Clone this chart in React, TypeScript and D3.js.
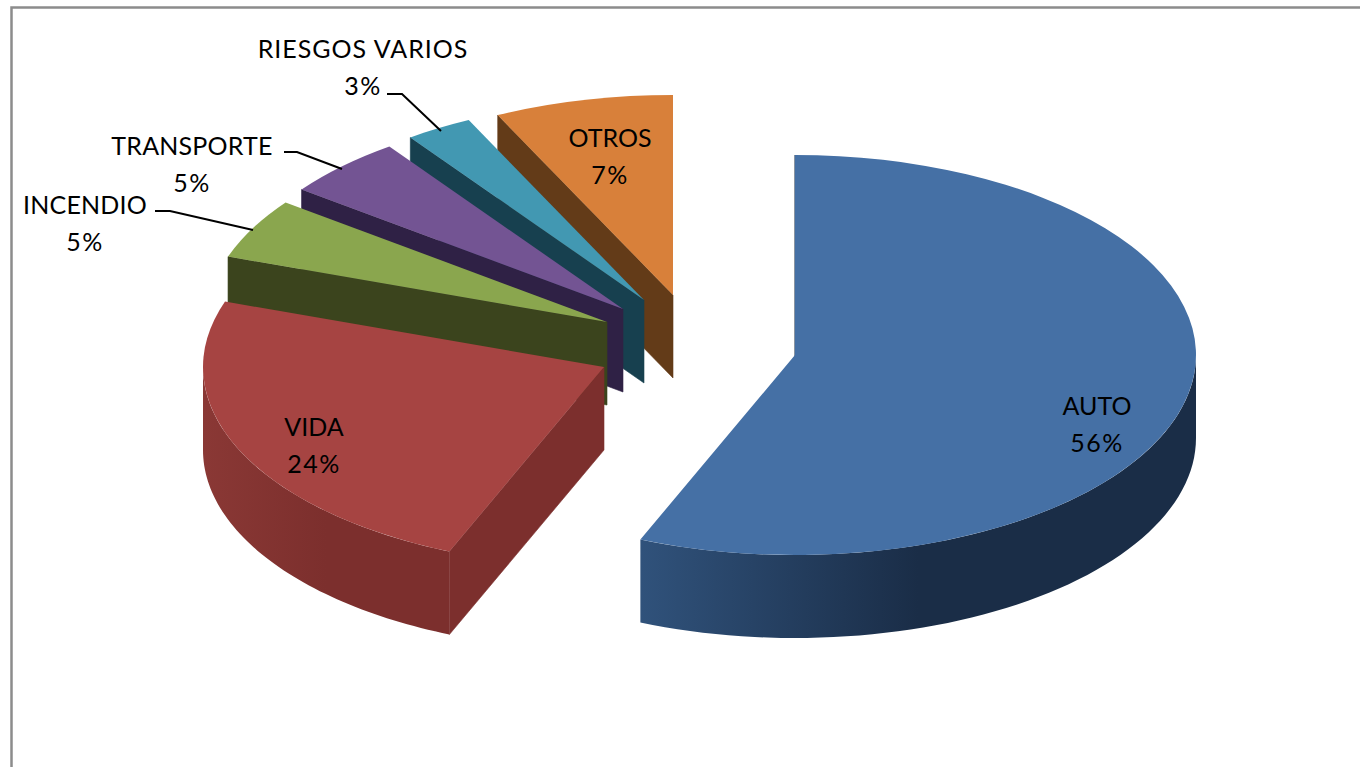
import * as d3 from "d3";

const categories = ["AUTO", "VIDA", "INCENDIO", "TRANSPORTE", "RIESGOS VARIOS", "OTROS"];
const shares = [56.3, 24, 4.9, 4.9, 2.7, 7.2];

const topColors = ["#4570a5", "#a64442", "#8aa64e", "#735493", "#4298b2", "#d8803a"];
const wallLeft = ["#30527b", "#8a3835", "#3b441d", "#2f2145", "#17404f", "#633b18"];
const wallRight = ["#1a2d47", "#7c2f2d", "#3b441d", "#2f2145", "#17404f", "#633b18"];

// where each exploded slice has its point
const apexX = [795, 604, 607, 623, 644, 673];
const apexY = [355, 367, 322, 309, 300, 295];
const rx = 401;
const ry = 200;
const depth = 83;

const labelX = [1097, 314, 85, 192, 363, 610];
const labelY = [415, 436, 214, 155, 58, 147];
const labelSpacing = [0, 0, 0.2, 0.2, 1, 0];
const leaders: (number[][] | null)[] = [
  null,
  null,
  [[155, 211], [170, 211], [253, 230]],
  [[284, 152], [297, 152], [342, 169]],
  [[387, 94], [402, 94], [441, 131]],
  null,
];

const pieData = d3.pie<number>().sort(null)(shares);
const linePath = d3.line();
const topArc = d3.arc<d3.PieArcDatum<number>>().innerRadius(0).outerRadius(rx);

function rimPoint(i: number, a: number, drop = 0): [number, number] {
  return [apexX[i] + rx * Math.sin(a), apexY[i] - ry * Math.cos(a) + drop];
}

function outerWall(i: number) {
  const from = Math.max(pieData[i].startAngle, Math.PI / 2);
  const to = Math.min(pieData[i].endAngle, (3 * Math.PI) / 2);
  if (to <= from) return null;
  const angle = d3.scaleLinear().domain([0, 60]).range([from, to]);
  const angles = d3.range(0, 61).map((k) => angle(k));
  const upper = angles.map((a) => rimPoint(i, a));
  const lower = angles.map((a) => rimPoint(i, a, depth)).reverse();
  return linePath([...upper, ...lower]) + "Z";
}

function cutWall(i: number) {
  const [ox, oy] = rimPoint(i, pieData[i].startAngle);
  return (
    linePath([
      [apexX[i], apexY[i]],
      [ox, oy],
      [ox, oy + depth],
      [apexX[i], apexY[i] + depth],
    ]) + "Z"
  );
}

export default function App() {
  const order = d3.range(categories.length).reverse();
  const total = d3.sum(shares);
  return (
    <svg
      width={1360}
      height={767}
      style={{ position: "absolute", left: 0, top: 0, background: "#fff" }}
      fontFamily="Lato, 'Open Sans', sans-serif"
    >
      <defs>
        {categories.map((_, i) => (
          <linearGradient key={i} id={`wall${i}`} x1="0" x2="1" y1="0" y2="0">
            <stop offset="0" stopColor={wallLeft[i]} />
            <stop offset="0.5" stopColor={wallRight[i]} />
            <stop offset="1" stopColor={wallRight[i]} />
          </linearGradient>
        ))}
      </defs>
      <path d="M11.5,767V7.5H1360" fill="none" stroke="#8c8c8c" strokeWidth={2.5} />
      {order.map((i) => {
        const wall = outerWall(i);
        return (
          <g key={i}>
            <path d={cutWall(i)} fill={wallRight[i]} stroke={wallRight[i]} strokeWidth={0.6} />
            {wall && <path d={wall} fill={`url(#wall${i})`} />}
            <path
              d={topArc(pieData[i]) ?? ""}
              transform={`translate(${apexX[i]},${apexY[i]}) scale(1,${ry / rx})`}
              fill={topColors[i]}
            />
          </g>
        );
      })}
      {leaders.map((pts, i) =>
        pts ? (
          <path key={i} d={linePath(pts as [number, number][]) ?? ""} fill="none" stroke="#000" strokeWidth={2} />
        ) : null
      )}
      {categories.map((c, i) => (
        <text key={c} textAnchor="middle" fontSize={25} fill="#000">
          <tspan x={labelX[i]} y={labelY[i]} letterSpacing={labelSpacing[i]}>{c}</tspan>
          <tspan x={labelX[i]} y={labelY[i] + 37} letterSpacing={1.5}>{`${Math.round((shares[i] / total) * 100)}%`}</tspan>
        </text>
      ))}
    </svg>
  );
}
